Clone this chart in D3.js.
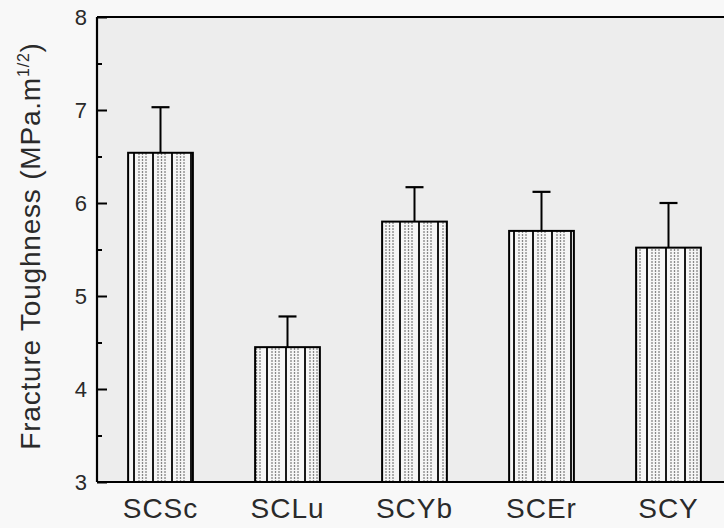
<!DOCTYPE html>
<html>
<head>
<meta charset="utf-8">
<script src="https://cdn.jsdelivr.net/npm/d3@7"></script>
<style>
  html, body { margin: 0; padding: 0; background: #f8f8f8; }
  svg { display: block; }
  text { font-family: "Liberation Sans", Arial, sans-serif; fill: #2a2a2a; }
</style>
</head>
<body>
<svg width="724" height="528"></svg>
<script>
// values
let categories = ["SCSc", "SCLu", "SCYb", "SCEr", "SCY"];
let toughness = [6.54, 4.45, 5.80, 5.70, 5.52];
let errUp = [0.49, 0.33, 0.37, 0.42, 0.48];
let majorTicks = [3, 4, 5, 6, 7, 8];
let minorTicks = [3.5, 4.5, 5.5, 6.5, 7.5];

let svg = d3.select("svg");
let W = +svg.attr("width"), H = +svg.attr("height");

let plotLeft = 97, plotTop = 17, plotBottom = 482;

let x = d3.scaleBand()
    .domain(categories)
    .range([plotLeft, 732])   // right edge is cut off in the original
    .paddingInner(0.49)
    .paddingOuter(0.245);

let y = d3.scaleLinear().domain([3, 8]).range([plotBottom, plotTop]);

// hatch pattern: black verticals with dotted grey ones between
let defs = svg.append("defs");
let pat = defs.append("pattern")
    .attr("id", "hatch")
    .attr("patternUnits", "userSpaceOnUse")
    .attr("width", 19).attr("height", 6);
pat.append("rect").attr("width", 19).attr("height", 6).attr("fill", "#f6f6f6");
pat.append("line").attr("x1", 1).attr("x2", 1).attr("y1", 0).attr("y2", 6)
    .attr("stroke", "#000").attr("stroke-width", 1.8);
[6, 9.5, 13].forEach(px => {
    pat.append("line").attr("x1", px).attr("x2", px).attr("y1", 0).attr("y2", 6)
        .attr("stroke", "#888").attr("stroke-width", 1.3)
        .attr("stroke-dasharray", "2,1");
});

// plot background
svg.append("rect")
    .attr("x", plotLeft).attr("y", plotTop)
    .attr("width", W - plotLeft).attr("height", plotBottom - plotTop)
    .attr("fill", "#ededed");

// bars
svg.selectAll(".bar")
    .data(categories)
    .enter().append("rect")
    .attr("class", "bar")
    .attr("x", d => x(d))
    .attr("y", (d, i) => y(toughness[i]))
    .attr("width", x.bandwidth())
    .attr("height", (d, i) => plotBottom - y(toughness[i]))
    .attr("fill", "url(#hatch)")
    .attr("stroke", "#000")
    .attr("stroke-width", 2);

// error bars (upper only)
let eb = svg.selectAll(".err")
    .data(categories)
    .enter().append("g")
    .attr("class", "err");
eb.append("line")
    .attr("x1", d => x(d) + x.bandwidth() / 2)
    .attr("x2", d => x(d) + x.bandwidth() / 2)
    .attr("y1", (d, i) => y(toughness[i]))
    .attr("y2", (d, i) => y(toughness[i] + errUp[i]))
    .attr("stroke", "#000").attr("stroke-width", 2);
eb.append("line")
    .attr("x1", d => x(d) + x.bandwidth() / 2 - 9)
    .attr("x2", d => x(d) + x.bandwidth() / 2 + 9)
    .attr("y1", (d, i) => y(toughness[i] + errUp[i]))
    .attr("y2", (d, i) => y(toughness[i] + errUp[i]))
    .attr("stroke", "#000").attr("stroke-width", 2.2);

// y axis: ticks point inward
let yAxis = svg.append("g")
    .attr("transform", `translate(${plotLeft},0)`)
    .call(d3.axisRight(y).tickValues(majorTicks).tickSize(10).tickFormat(""));
yAxis.select(".domain").remove();
yAxis.selectAll("line").attr("stroke", "#000").attr("stroke-width", 2);

let yMinor = svg.append("g")
    .attr("transform", `translate(${plotLeft},0)`)
    .call(d3.axisRight(y).tickValues(minorTicks).tickSize(5).tickFormat(""));
yMinor.select(".domain").remove();
yMinor.selectAll("line").attr("stroke", "#000").attr("stroke-width", 2);

svg.selectAll(".ylab")
    .data(majorTicks)
    .enter().append("text")
    .attr("class", "ylab")
    .attr("x", plotLeft - 10)
    .attr("y", d => y(d) + 8)
    .attr("text-anchor", "end")
    .style("font-size", "22px")
    .text(d => d);

// x axis: no ticks
let xAxis = svg.append("g")
    .attr("transform", `translate(0,${plotBottom})`)
    .call(d3.axisBottom(x).tickSize(0).tickPadding(10));
xAxis.select(".domain").remove();
xAxis.selectAll("text")
    .attr("dy", null)
    .attr("y", 36)
    .style("font-size", "28px")
    .style("letter-spacing", "1px");

// frame lines
svg.append("line").attr("x1", plotLeft).attr("x2", W).attr("y1", plotBottom).attr("y2", plotBottom)
    .attr("stroke", "#000").attr("stroke-width", 2.2);
svg.append("line").attr("x1", plotLeft).attr("x2", plotLeft).attr("y1", plotTop).attr("y2", plotBottom)
    .attr("stroke", "#000").attr("stroke-width", 2.2);
svg.append("line").attr("x1", plotLeft).attr("x2", W).attr("y1", plotTop).attr("y2", plotTop)
    .attr("stroke", "#000").attr("stroke-width", 2.2);

// y title
let yt = svg.append("text")
    .attr("transform", "translate(40,246) rotate(-90)")
    .attr("text-anchor", "middle")
    .style("font-size", "28px")
    .style("letter-spacing", "0.8px");
yt.append("tspan").text("Fracture Toughness (MPa.m");
yt.append("tspan").attr("dy", -11).style("font-size", "16px").text("1/2");
yt.append("tspan").attr("dy", 11).text(")");
</script>
</body>
</html>
